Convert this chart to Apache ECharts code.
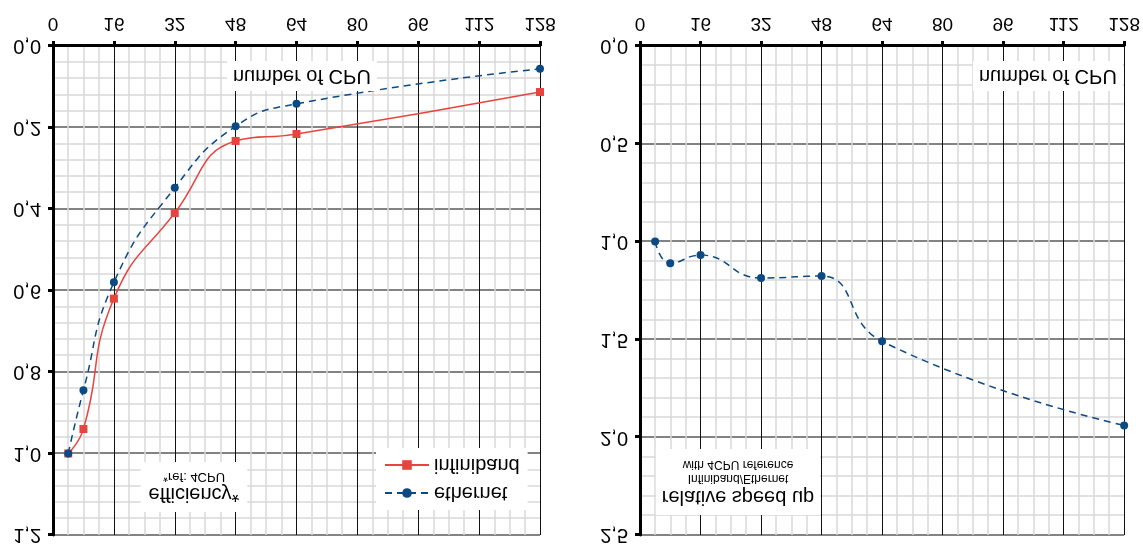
<!DOCTYPE html>
<html>
<head>
<meta charset="utf-8">
<script src="https://cdn.jsdelivr.net/npm/echarts@6/dist/echarts.min.js"></script>
<style>
  html, body { margin: 0; padding: 0; background: #fff; }
  /* the reference picture is mirrored top-to-bottom */
  #chart { width: 1143px; height: 548px; transform: scaleY(-1); }
</style>
</head>
<body>
<div id="chart"></div>
<script>
// number of CPU
const cpus = [4, 8, 16, 32, 48, 64, 128];
// efficiency, ref 4 CPU
const effInfiniband = [1.0, 0.94, 0.62, 0.41, 0.233, 0.216, 0.113];
const effEthernet = [1.0, 0.845, 0.58, 0.348, 0.197, 0.142, 0.056];
// relative speed up infiniband / ethernet
const speedUp = [1.0, 1.111, 1.069, 1.186, 1.176, 1.51, 1.94];

const red = '#e8443f';
const blue = '#0b4a85';
const font = 'Liberation Sans';

function pairs(xs, ys) {
  return xs.map((x, i) => [x, ys[i]]);
}

function xAxisCfg(gridIndex) {
  return {
    type: 'value', gridIndex: gridIndex, min: 0, max: 128, interval: 16,
    axisLine: { onZero: false, lineStyle: { color: '#000', width: 3 } },
    axisTick: { show: true, length: 5, lineStyle: { color: '#000', width: 3 } },
    axisLabel: { fontFamily: font, fontSize: 19, color: '#000', margin: 13 },
    splitLine: { show: true, lineStyle: { color: '#111', width: 1 } },
    minorTick: { show: false, splitNumber: 4 },
    minorSplitLine: { show: true, lineStyle: { color: '#d9d9d9', width: 1.5 } }
  };
}

function yAxisCfg(gridIndex, max, interval) {
  return {
    type: 'value', gridIndex: gridIndex, min: 0, max: max, interval: interval,
    axisLine: { show: true, onZero: false, lineStyle: { color: '#000', width: 3 } },
    axisTick: { show: true, length: 5, lineStyle: { color: '#000', width: 3 } },
    axisLabel: {
      fontFamily: font, fontSize: 20, color: '#000', margin: 12,
      formatter: v => v.toFixed(1).replace('.', ',')
    },
    splitLine: { show: true, lineStyle: { color: '#5a5a5a', width: 1.5 } },
    minorTick: { show: false, splitNumber: 5 },
    minorSplitLine: { show: true, lineStyle: { color: '#d9d9d9', width: 1.5 } }
  };
}

const boxTitle = (text, left, top) => ({
  text: text, left: left, top: top,
  backgroundColor: '#fff', padding: [5, 6],
  textStyle: { fontFamily: font, fontSize: 20, fontWeight: 'normal', color: '#000' }
});

const chart = echarts.init(document.getElementById('chart'));
chart.setOption({
  animation: false,
  title: [
    boxTitle('number of CPU', 227, 457),
    boxTitle('number of CPU', 973, 457),
    {
      // with textAlign center, left is the box centre
      text: 'efficiency*', subtext: '*ref: 4CPU', left: 186, top: 36,
      backgroundColor: '#fff', padding: [8, 8], itemGap: 1, textAlign: 'center',
      textStyle: { fontFamily: font, fontSize: 20, fontWeight: 'normal', color: '#000' },
      subtextStyle: { fontFamily: font, fontSize: 13, color: '#000' }
    },
    {
      text: 'relative speed up', subtext: 'Infiniband/Ethernet\nwith 4CPU reference', left: 732, top: 33,
      backgroundColor: '#fff', padding: [8, 6], itemGap: 2, textAlign: 'center',
      textStyle: { fontFamily: font, fontSize: 20, fontWeight: 'normal', color: '#000' },
      subtextStyle: { fontFamily: font, fontSize: 12, lineHeight: 14, color: '#000' }
    }
  ],
  legend: {
    data: ['ethernet', 'infiniband'],
    orient: 'vertical', left: 376, top: 38,
    backgroundColor: '#fff', padding: [7, 8], itemGap: 8,
    itemWidth: 44, itemHeight: 12,
    textStyle: { fontFamily: font, fontSize: 20, color: '#000' }
  },
  grid: [
    { left: 53, top: 13, width: 487, height: 489 },
    { left: 640, top: 13, width: 485, height: 489 }
  ],
  xAxis: [xAxisCfg(0), xAxisCfg(1)],
  yAxis: [yAxisCfg(0, 1.2, 0.2), yAxisCfg(1, 2.5, 0.5)],
  series: [
    {
      name: 'infiniband', type: 'line', xAxisIndex: 0, yAxisIndex: 0,
      data: pairs(cpus, effInfiniband), smooth: 0.5,
      symbol: 'rect', symbolSize: 8,
      lineStyle: { color: red, width: 1.5 }, itemStyle: { color: red }
    },
    {
      name: 'ethernet', type: 'line', xAxisIndex: 0, yAxisIndex: 0,
      data: pairs(cpus, effEthernet), smooth: 0.5,
      symbol: 'circle', symbolSize: 8,
      lineStyle: { color: blue, width: 1.5, type: [7, 5] }, itemStyle: { color: blue }
    },
    {
      name: 'speed up', type: 'line', xAxisIndex: 1, yAxisIndex: 1,
      data: pairs(cpus, speedUp), smooth: 0.5,
      symbol: 'circle', symbolSize: 8,
      lineStyle: { color: blue, width: 1.5, type: [7, 5] }, itemStyle: { color: blue }
    }
  ]
});
</script>
</body>
</html>
